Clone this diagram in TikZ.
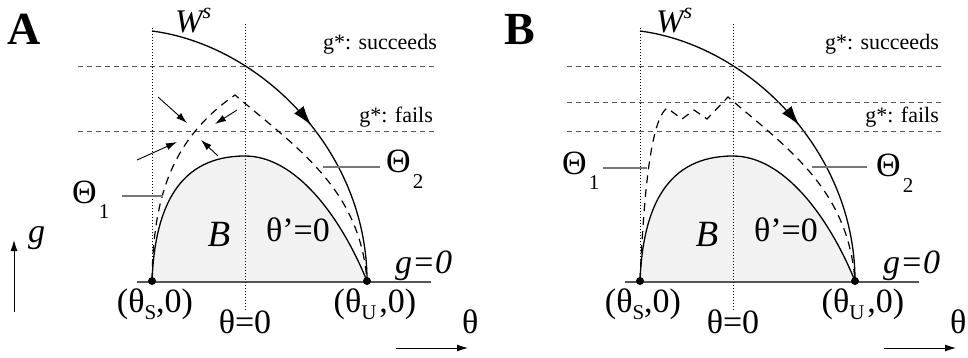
\documentclass[tikz,border=0pt]{standalone}
\usepackage{fontspec}
\setmainfont{Liberation Serif}
\usepackage{tikz}
\usetikzlibrary{arrows.meta,decorations.markings}
\definecolor{basin}{HTML}{F2F2F2}
\definecolor{guide}{HTML}{555555}
\definecolor{leader}{HTML}{777777}
\newcommand{\lowidx}[2][-7pt]{\raisebox{#1}{\fontsize{21}{21}\selectfont #2}}

\tikzset{
  lbl/.style={font=\fontsize{34}{36}\selectfont, inner sep=0pt},
  smalllbl/.style={font=\fontsize{22}{24}\selectfont, inner sep=0pt},
  level/.style={guide, line width=1pt, dash pattern=on 5pt off 4pt},
  axisline/.style={line width=1pt, dash pattern=on 1pt off 2pt},
  orbit/.style={line width=1.3pt},
  flowcurve/.style={line width=1.2pt, dash pattern=on 8pt off 6pt},
  pointer/.style={line width=0.9pt, -{Latex[length=11pt,width=7pt]}},
  leaderline/.style={leader, line width=1.2pt},
  fixpt/.style={circle, fill, inner sep=0pt, minimum size=8pt},
}

\begin{document}
\begin{tikzpicture}[x=1pt,y=-1pt]
\useasboundingbox (0,0) rectangle (968,358);

% parts shared by both panels
\foreach \p/\dx/\lx/\wx in {A/0/7/175,B/488/16/168}{
\begin{scope}[xshift=\dx pt]
  \coordinate (s\p) at (152,281);
  \coordinate (u\p) at (367,281);
  \coordinate (t\p) at (245,156);
  \coordinate (w\p) at (152,31);
  \fill[basin] (s\p) .. controls (155,205) and (180,156) .. (t\p)
     .. controls (295,156) and (340,215) .. (u\p) -- cycle;
  \draw[guide, line width=1.5pt] (137,282) -- (431,282);
  \draw[axisline] (152,28) -- (s\p);
  \draw[axisline] (245,24) -- (245,311);
  \draw[orbit] (s\p) .. controls (155,205) and (180,156) .. (t\p)
     .. controls (295,156) and (340,215) .. (u\p);
  \draw[orbit, postaction={decorate},
     decoration={markings, mark=at position 0.53 with {\arrow{Latex[length=20pt,width=12pt]}}}]
     (w\p) .. controls (260,45) and (367,150) .. (u\p);
  \node[fixpt] (ps\p) at (s\p) {};
  \node[fixpt] (pu\p) at (u\p) {};
  \node[anchor=base west, inner sep=0pt, font=\fontsize{46}{46}\selectfont\bfseries] (name\p) at (\lx,45) {\p};
  \node[anchor=base west, inner sep=0pt, font=\fontsize{33}{33}\selectfont\itshape] (ws\p) at (\wx,33)
     {W\raisebox{14pt}{\fontsize{22}{22}\selectfont s}};
  \node[lbl, font=\fontsize{37}{37}\selectfont\itshape] (basin\p) at (219,234) {B};
  \node[lbl] (null\p) at (298,230) {θ’=0};
  \node[lbl, anchor=base west] (gzero\p) at (395,273) {\itshape g=0};
  \node[lbl, anchor=base] (ls\p) at (155,312) {(θ\lowidx{S},0)};
  \node[lbl, anchor=base] (lz\p) at (245,333) {θ=0};
  \node[lbl, anchor=base] (lu\p) at (375,312) {(θ\lowidx{U}\kern3pt,0)};
  \node[lbl, anchor=base west] (th\p) at (462,333) {θ};
  \coordinate (ax\p) at (396,348);
  \draw[pointer] (ax\p) -- ++(72,0);
\end{scope}
}

% panel A
\draw[level] (78,67) -- (437,67);
\draw[level] (78,132) -- (437,132);
\node[smalllbl, anchor=base east] (succA) at (437,50) {g*: succeeds};
\node[smalllbl, anchor=base east] (failA) at (433,123) {g*: fails};
\draw[flowcurve] (sA) .. controls (153,200) and (170,140) .. (235,95)
   .. controls (300,150) and (360,190) .. (uA);
\coordinate (crossA) at (195,132);
\draw[pointer] ([shift={(-37,-35)}]crossA) -- ([shift={(-8,-9)}]crossA);
\draw[pointer] ([shift={(42,-22)}]crossA) -- ([shift={(20,-8)}]crossA);
\draw[pointer] ([shift={(-58,28)}]crossA) -- ([shift={(-18,10)}]crossA);
\draw[pointer] ([shift={(23,24)}]crossA) -- ([shift={(6,8)}]crossA);
\coordinate (c1A) at (163,196);
\coordinate (c2A) at (323,167);
\node[lbl, anchor=base west] (theta1A) at (72,203) {Θ\kern2pt\lowidx[-15pt]{1}};
\node[lbl, anchor=base west] (theta2A) at (386,173) {Θ\kern2pt\lowidx[-16pt]{2}};
\draw[leaderline] (c1A) -- ++(-41,0);
\draw[leaderline] (c2A) -- ++(57,0);
\coordinate (gfoot) at (14,312);
\draw[pointer] (gfoot) -- ++(0,-72);
\node[lbl, anchor=base west] (gaxis) at (28,242) {\itshape g};

% panel B
\begin{scope}[xshift=488pt]
\draw[level] (79,67) -- (454,67);
\draw[level] (79,103) -- (454,103);
\draw[level] (79,132) -- (454,132);
\node[smalllbl, anchor=base east] (succB) at (451,50) {g*: succeeds};
\node[smalllbl, anchor=base east] (failB) at (451,123) {g*: fails};
\draw[flowcurve] (sB) .. controls (156,190) and (163,120) .. (179,108)
   -- (194,119) -- (206,110) -- (219,119) -- (240,97)
   .. controls (302,150) and (360,190) .. (uB);
\coordinate (c1B) at (159,168);
\coordinate (c2B) at (324,167);
\node[lbl, anchor=base west] (theta1B) at (74,175) {Θ\kern2pt\lowidx[-15pt]{1}};
\node[lbl, anchor=base west] (theta2B) at (388,176) {Θ\kern2pt\lowidx[-16pt]{2}};
\draw[leaderline] (c1B) -- ++(-44,0);
\draw[leaderline] (c2B) -- ++(55,0);
\end{scope}
\end{tikzpicture}
\end{document}
